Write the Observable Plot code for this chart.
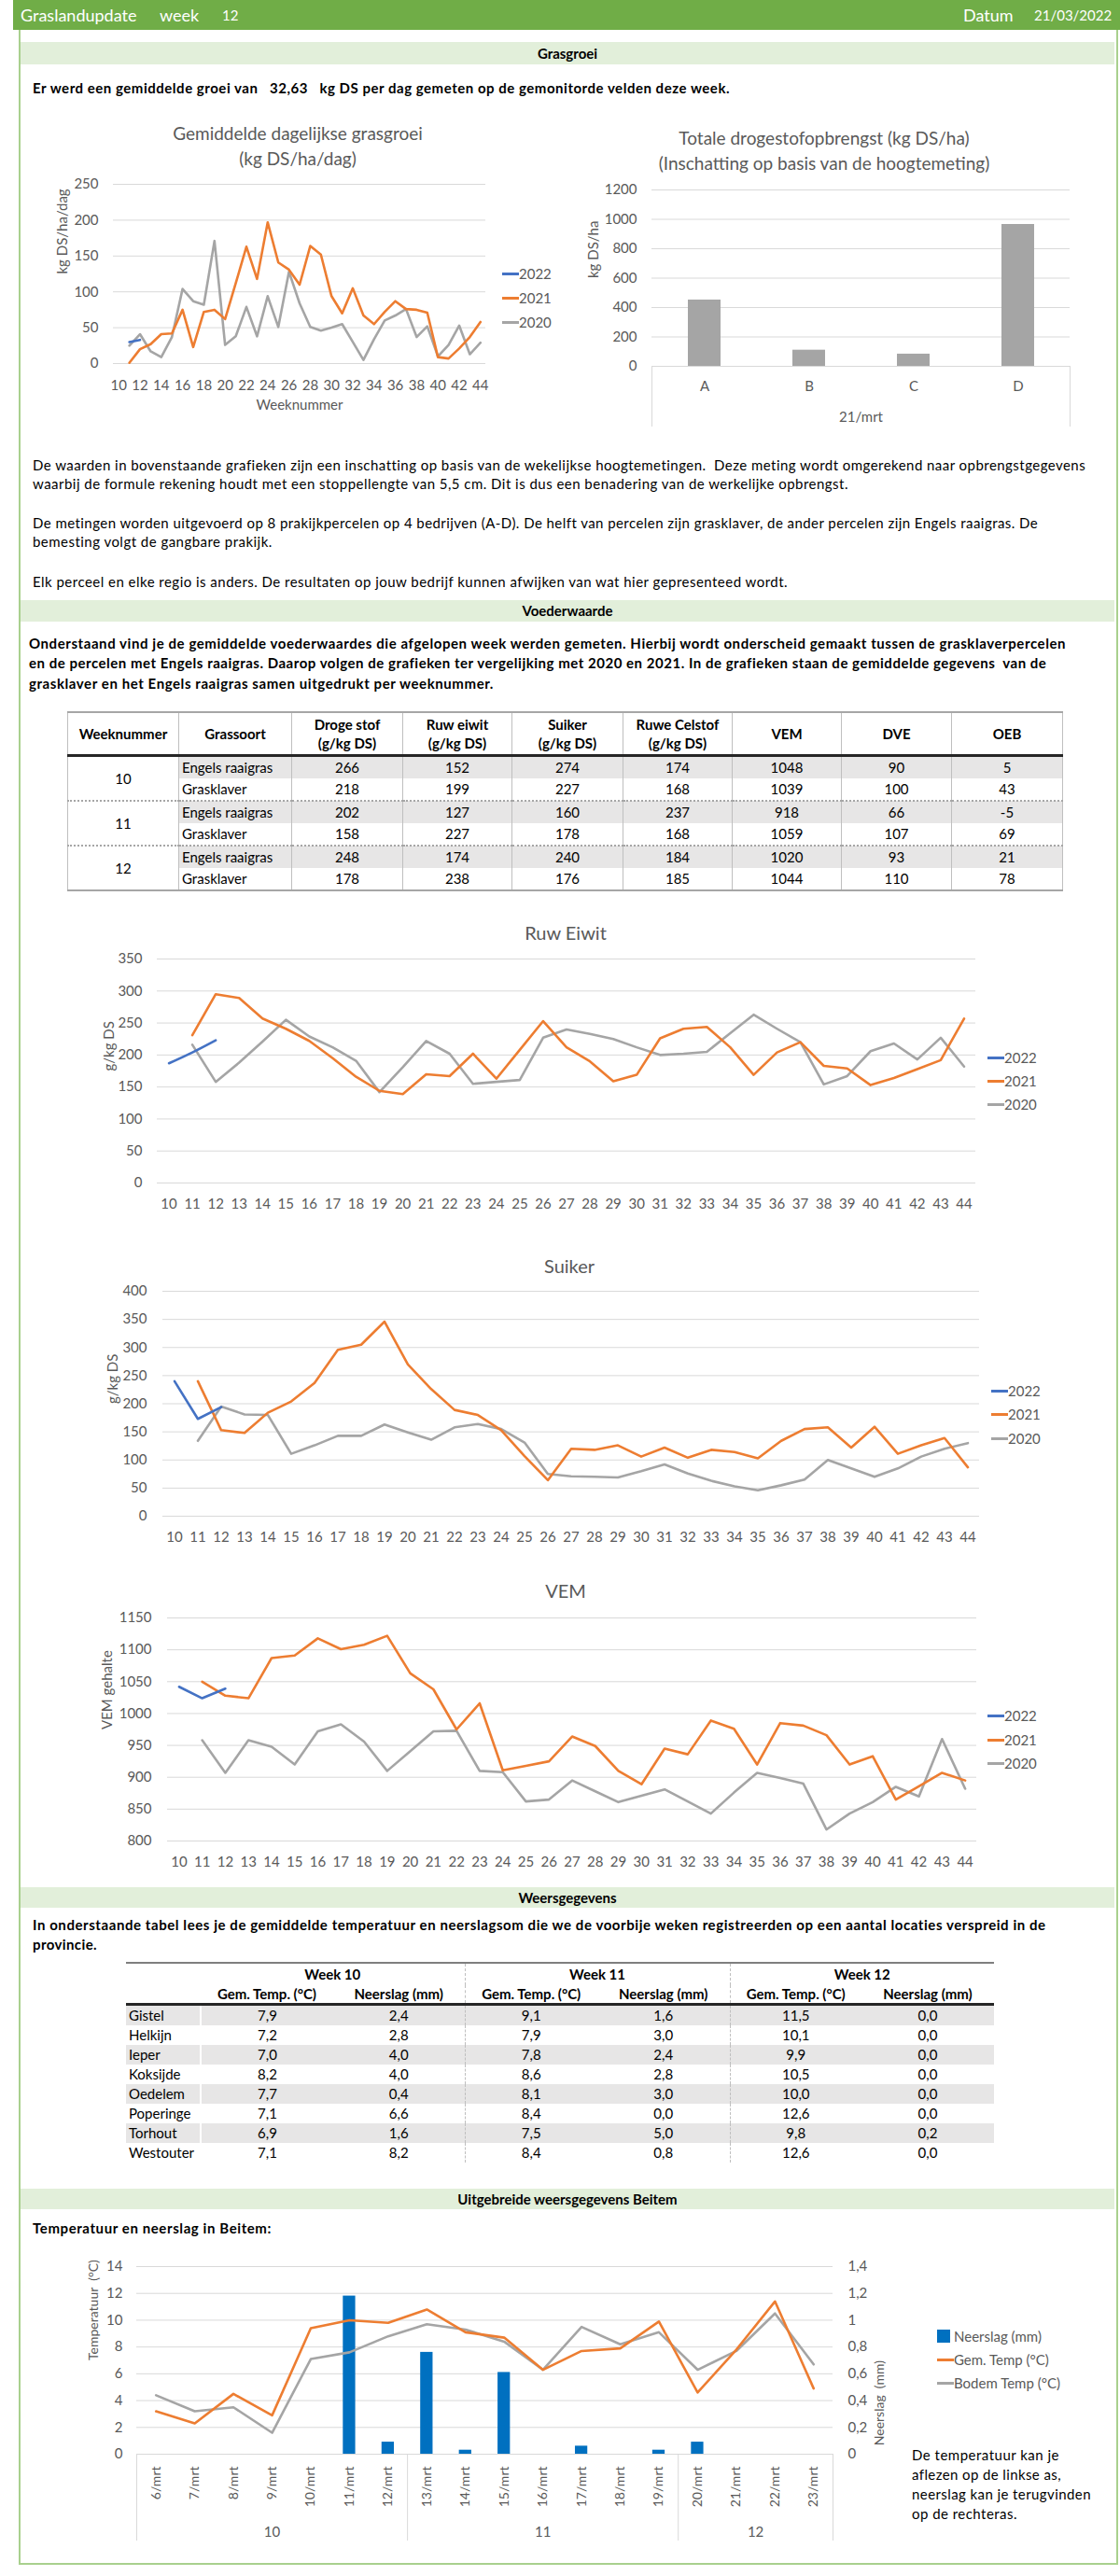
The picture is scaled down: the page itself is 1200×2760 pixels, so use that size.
<!DOCTYPE html>
<html><head><meta charset="utf-8">
<script src="https://cdn.jsdelivr.net/npm/d3@7"></script>
<script src="https://cdn.jsdelivr.net/npm/@observablehq/plot@0.6"></script>
<style>
html,body{margin:0;padding:0;background:#fff;}
#page{position:relative;width:1200px;height:2760px;overflow:hidden;font-family:Lato,"Open Sans",sans-serif;color:#000;}
#page div{position:absolute;}
table{border-collapse:collapse;table-layout:fixed;font-family:Lato,sans-serif;font-size:15px;color:#000;}
#vw{position:absolute;left:72px;top:762px;width:1066px;}
#vw th,#vw td{border-left:1px solid #bfbfbf;border-right:1px solid #bfbfbf;padding:0;text-align:center;}
#vw th{font-weight:700;height:44px;line-height:20px;border-top:2px solid #a6a6a6;border-bottom:3px solid #262626;}
#vw td{height:23px;line-height:23px;}
#vw tr.er td{background:#e7e6e6;}
#vw td.wk{background:#fff !important;}
#vw tr.grp td{border-top:2px dotted #a6a6a6;}
#vw tr.last td, #vw td.wk.lastwk{border-bottom:2px solid #a6a6a6;}
#vw td.gs{text-align:left;padding-left:3px;}
#wt{position:absolute;left:135px;top:2102px;width:930px;}
#wt th{font-weight:700;padding:0;text-align:center;}
#wt tr.h1 th{height:23px;border-top:2px solid #7f7f7f;line-height:23px;}
#wt tr.h2 th{height:19px;border-bottom:3px solid #262626;line-height:19px;}
#wt td{height:21px;padding:0;text-align:center;line-height:21px;}
#wt tr.sh td{background:#e7e6e6;}
#wt td.loc{text-align:left;padding-left:3px;border-right:2px solid #fff;}
#wt .dv{border-left:1px dashed #bfbfbf;}
</style></head>
<body><div id="page"></div>
<script>
// ---------------- DATA ----------------
const weeks = [10,11,12,13,14,15,16,17,18,19,20,21,22,23,24,25,26,27,28,29,30,31,32,33,34,35,36,37,38,39,40,41,42,43,44];
const weeksTo44 = [11,12,13,14,15,16,17,18,19,20,21,22,23,24,25,26,27,28,29,30,31,32,33,34,35,36,37,38,39,40,41,42,43,44];
const weekTicks2 = [10,12,14,16,18,20,22,24,26,28,30,32,34,36,38,40,42,44];

// Grasgroei (kg DS/ha/dag)
const groeiWeeks2022 = [11,12];
const groei2022 = [30,33];
const groei2021 = [1,20,27,41,42,75,23,72,75,62,112,163,118,197,141,131,110,164,152,94,70,105,67,55,72,87,76,75,71,9,7,21,37,58];
const groei2020 = [25,41,17,9,37,104,87,82,171,26,38,79,38,94,51,128,84,51,46,50,55,30,5,34,60,67,76,37,52,10,26,53,13,29];
const groeiTicks = [0,50,100,150,200,250];

// Totale drogestofopbrengst
const bedrijven = ["A","B","C","D"];
const opbrengst = [451,110,83,965];
const opbrengstTicks = [0,200,400,600,800,1000,1200];

// Voederwaarde table
const vwWeeks = [10,11,12];
const vwSoorten = ["Engels raaigras","Grasklaver"];
const vwHeaders = ["Weeknummer","Grassoort","Droge stof<br>(g/kg DS)","Ruw eiwit<br>(g/kg DS)","Suiker<br>(g/kg DS)","Ruwe Celstof<br>(g/kg DS)","VEM","DVE","OEB"];
const drogeStof = [266,218,202,158,248,178];
const ruwEiwitT = [152,199,127,227,174,238];
const suikerT = [274,227,160,178,240,176];
const celstofT = [174,168,237,168,184,185];
const vemT = [1048,1039,918,1059,1020,1044];
const dveT = [90,100,66,107,93,110];
const oebT = [5,43,-5,69,21,78];

// Ruw eiwit
const eiwitWeeks2022 = [10,11,12];
const eiwit2022 = [187,204,223];
const eiwit2021 = [231,295,289,257,241,222,195,166,144,139,170,167,202,163,208,253,212,190,159,169,226,241,244,212,169,204,220,183,179,153,164,178,192,257];
const eiwit2020 = [216,158,188,221,255,229,212,191,142,181,222,202,155,158,161,227,240,233,225,212,200,202,205,234,263,241,220,154,167,206,218,193,227,182];
const eiwitTicks = [0,50,100,150,200,250,300,350];

// Suiker
const suikerWeeks2022 = [10,11,12];
const suiker2022 = [240,173,194];
const suiker2021 = [240,153,148,184,204,237,296,305,346,270,226,189,180,153,107,64,120,118,126,106,122,104,118,114,103,134,155,158,122,159,111,126,139,87];
const suiker2020 = [134,195,181,180,111,126,143,143,163,149,136,158,164,155,131,75,71,70,69,80,92,76,63,53,46,55,65,100,85,70,85,106,120,130];
const suikerTicks = [0,50,100,150,200,250,300,350,400];

// VEM
const vemWeeks2022 = [10,11,12];
const vem2022 = [1042,1024,1039];
const vem2021 = [1050,1028,1024,1087,1091,1118,1101,1108,1122,1063,1038,975,1016,911,918,925,964,949,910,889,945,936,989,976,920,985,981,966,920,933,865,886,907,895];
const vem2020 = [958,907,958,948,920,972,983,956,910,941,972,973,910,908,862,865,895,878,861,871,881,862,843,876,907,899,890,818,843,861,885,870,960,882];
const vemTicks = [800,850,900,950,1000,1050,1100,1150];

// Weersgegevens
const locaties = ["Gistel","Helkijn","Ieper","Koksijde","Oedelem","Poperinge","Torhout","Westouter"];
const wkLabels = ["Week 10","Week 11","Week 12"];
const temp10 = [7.9,7.2,7.0,8.2,7.7,7.1,6.9,7.1];
const neer10 = [2.4,2.8,4.0,4.0,0.4,6.6,1.6,8.2];
const temp11 = [9.1,7.9,7.8,8.6,8.1,8.4,7.5,8.4];
const neer11 = [1.6,3.0,2.4,2.8,3.0,0.0,5.0,0.8];
const temp12 = [11.5,10.1,9.9,10.5,10.0,12.6,9.8,12.6];
const neer12 = [0.0,0.0,0.0,0.0,0.0,0.0,0.2,0.0];

// Beitem
const dagen = ["6/mrt","7/mrt","8/mrt","9/mrt","10/mrt","11/mrt","12/mrt","13/mrt","14/mrt","15/mrt","16/mrt","17/mrt","18/mrt","19/mrt","20/mrt","21/mrt","22/mrt","23/mrt"];
const dagWeek = ["10","10","10","10","10","10","10","11","11","11","11","11","11","11","12","12","12","12"];
const neerslag = [0,0,0,0,0,1.18,0.09,0.76,0.03,0.61,0,0.06,0,0.03,0.09,0,0,0];
const gemTemp = [3.2,2.3,4.5,2.9,9.4,10.0,9.8,10.8,9.1,8.7,6.3,7.7,7.9,9.9,4.6,7.8,11.4,4.9];
const bodemTemp = [4.4,3.2,3.5,1.6,7.1,7.6,8.8,9.7,9.3,8.4,6.3,9.5,8.2,9.1,6.3,7.7,10.5,6.7];
const tempTicks = [0,2,4,6,8,10,12,14];

// ---------------- HELPERS ----------------
const ORANGE = "#ed7d31", GRAY = "#a5a5a5", BLUE = "#4472c4", GRID = "#d9d9d9", TXT = "#595959";
const page = document.getElementById("page");
function box(css, html = "") {
  const d = document.createElement("div");
  d.style.cssText = "position:absolute;" + css;
  d.innerHTML = html;
  page.appendChild(d);
  return d;
}
function fit(d, w) {
  const n = d.textContent.length;
  const cur = d.getBoundingClientRect().width;
  if (n > 1) d.style.letterSpacing = ((w - cur) / n).toFixed(3) + "px";
}
function txt(x, yc, text, o = {}) {
  const fs = o.size || 15;
  const d = box(`left:${x}px;top:${yc - 12}px;line-height:24px;font-size:${fs}px;white-space:pre;font-weight:${o.bold ? 700 : 400};color:${o.color || "#000"}`, text);
  if (o.w) fit(d, o.w);
  return d;
}
function ctxt(xc, yc, text, o = {}) {
  const fs = o.size || 15;
  return box(`left:${xc - 400}px;width:800px;text-align:center;top:${yc - 14}px;line-height:28px;font-size:${fs}px;white-space:pre;font-weight:${o.bold ? 700 : 400};color:${o.color || "#000"}`, text);
}
function place(node, left, top) {
  node.style.position = "absolute";
  node.style.left = left + "px";
  node.style.top = top + "px";
  page.appendChild(node);
}
function legendLine(x, y, color, label, len = 18) {
  box(`left:${x}px;top:${y - 1.5}px;width:${len}px;height:3px;background:${color}`);
  txt(x + len, y, label, {color: TXT});
}
function section(top, h, label) {
  box(`left:22px;top:${top}px;width:1172px;height:${h}px;background:#e2efda;line-height:${h}px;text-align:center;font-weight:700;font-size:15px`, label);
}
const pts = (ws, vs) => ws.map((w, i) => ({w, v: vs[i]}));

function lineChart(c) {
  const width = c.x1 - c.left + 20, height = c.yBottom - c.top + 60;
  const marks = [
    Plot.ruleY(c.ticks, {stroke: GRID, strokeWidth: 1}),
    Plot.axisY({ticks: c.ticks, tickSize: 0, tickPadding: c.yPad, tickFormat: d => String(d), label: null}),
    Plot.axisX({ticks: c.xTicks, tickSize: 0, tickPadding: c.xPad, tickFormat: d => String(d), label: null}),
    Plot.text([c.yLabel], {frameAnchor: "left", rotate: -90, dx: c.labelX - c.x0, fontSize: 15})
  ];
  if (c.xLabel) marks.push(Plot.text([c.xLabel], {frameAnchor: "bottom", lineAnchor: "middle", dy: c.xLabelDy, fontSize: 15}));
  for (const s of c.series) {
    marks.push(Plot.line(pts(s.weeks, s.values), {x: "w", y: "v", stroke: s.color, strokeWidth: 2.6, curve: s.curve || "linear"}));
  }
  const p = Plot.plot({
    width, height,
    marginLeft: c.x0 - c.left, marginRight: 20, marginTop: c.yTop - c.top, marginBottom: 60,
    style: {fontFamily: "Lato, sans-serif", fontSize: (c.fontSize || 15) + "px", color: TXT, background: "none", overflow: "visible"},
    x: {domain: [9.5, 44.5]},
    y: {domain: c.domain},
    marks
  });
  place(p, c.left, c.top);
}

// ---------------- FRAME & HEADER ----------------
box("left:20px;top:32px;width:1174px;height:2714px;border:2px solid #a9d08e;border-top:none");
box("left:14px;top:0;width:1186px;height:32px;background:#70ad47");
txt(22, 16, "Graslandupdate", {color: "#fff", size: 18});
txt(171, 16, "week", {color: "#fff", size: 18});
txt(238, 16, "12", {color: "#fff", size: 15});
txt(1032, 16, "Datum", {color: "#fff", size: 18});
txt(1108, 16, "21/03/2022", {color: "#fff", size: 15});

// ---------------- GRASGROEI ----------------
section(45, 24, "Grasgroei");
txt(35, 94, "Er werd een gemiddelde groei van   32,63   kg DS per dag gemeten op de gemonitorde velden deze week.", {bold: true, w: 747});

ctxt(319, 143, "Gemiddelde dagelijkse grasgroei", {size: 19, color: TXT});
ctxt(319, 170, "(kg DS/ha/dag)", {size: 19, color: TXT});
lineChart({left: 20, top: 180, x0: 121, x1: 520, yTop: 197, yBottom: 389, domain: [0, 250], ticks: groeiTicks,
  xTicks: weekTicks2, yLabel: "kg DS/ha/dag", labelX: 67, xPad: 18, yPad: 16, xLabel: "Weeknummer", xLabelDy: 45,
  series: [
    {weeks: weeksTo44, values: groei2020, color: GRAY},
    {weeks: weeksTo44, values: groei2021, color: ORANGE},
    {weeks: groeiWeeks2022, values: groei2022, color: BLUE}
  ]});
legendLine(538, 293, BLUE, "2022");
legendLine(538, 319, ORANGE, "2021");
legendLine(538, 345, GRAY, "2020");

// bar chart
ctxt(883, 148, "Totale drogestofopbrengst (kg DS/ha)", {size: 19, color: TXT});
ctxt(883, 175, "(Inschatting op basis van de hoogtemeting)", {size: 19, color: TXT});
{
  const data = bedrijven.map((b, i) => ({b, v: opbrengst[i]}));
  const p = Plot.plot({
    width: 560, height: 285, marginLeft: 98, marginRight: 14, marginTop: 18, marginBottom: 78,
    style: {fontFamily: "Lato, sans-serif", fontSize: "15px", color: TXT, background: "none", overflow: "visible"},
    x: {type: "band", domain: bedrijven, paddingInner: 0.69, paddingOuter: 0.345},
    y: {domain: [0, 1200]},
    marks: [
      Plot.ruleY(opbrengstTicks.filter(d => d > 0), {stroke: GRID}),
      Plot.barY(data, {x: "b", y: "v", fill: GRAY}),
      Plot.ruleY([0], {stroke: GRID}),
      Plot.axisY({ticks: opbrengstTicks, tickSize: 0, tickPadding: 16, tickFormat: d => String(d), label: null}),
      Plot.axisX({tickSize: 0, tickPadding: 16, label: null}),
      Plot.text(["kg DS/ha"], {frameAnchor: "left", rotate: -90, dx: -62, fontSize: 15}),
      Plot.text(["21/mrt"], {frameAnchor: "bottom", lineAnchor: "middle", dy: 55, fontSize: 15})
    ]
  });
  place(p, 600, 185);
  box("left:698px;top:392px;width:447px;height:65px;border-left:1px solid #d9d9d9;border-right:1px solid #d9d9d9");
}

// paragraphs
txt(35, 498, "De waarden in bovenstaande grafieken zijn een inschatting op basis van de wekelijkse hoogtemetingen.  Deze meting wordt omgerekend naar opbrengstgegevens", {w: 1128});
txt(35, 518, "waarbij de formule rekening houdt met een stoppellengte van 5,5 cm. Dit is dus een benadering van de werkelijke opbrengst.", {w: 874});
txt(35, 560, "De metingen worden uitgevoerd op 8 prakijkpercelen op 4 bedrijven (A-D). De helft van percelen zijn grasklaver, de ander percelen zijn Engels raaigras. De", {w: 1077});
txt(35, 580, "bemesting volgt de gangbare prakijk.", {w: 257});
txt(35, 623, "Elk perceel en elke regio is anders. De resultaten op jouw bedrijf kunnen afwijken van wat hier gepresenteed wordt.", {w: 809});

// ---------------- VOEDERWAARDE ----------------
section(643, 23, "Voederwaarde");
txt(31, 689, "Onderstaand vind je de gemiddelde voederwaardes die afgelopen week werden gemeten. Hierbij wordt onderscheid gemaakt tussen de grasklaverpercelen", {bold: true, w: 1111});
txt(31, 710, "en de percelen met Engels raaigras. Daarop volgen de grafieken ter vergelijking met 2020 en 2021. In de grafieken staan de gemiddelde gegevens  van de", {bold: true, w: 1090});
txt(31, 732, "grasklaver en het Engels raaigras samen uitgedrukt per weeknummer.", {bold: true, w: 498});

{
  const widths = [119,121,119,117,119,117,117,118,119];
  let h = "<colgroup>" + widths.map(w => `<col style="width:${w}px">`).join("") + "</colgroup>";
  h += "<thead><tr>" + vwHeaders.map(t => `<th>${t}</th>`).join("") + "</tr></thead><tbody>";
  vwWeeks.forEach((wk, gi) => {
    vwSoorten.forEach((s, si) => {
      const r = gi * 2 + si;
      const cls = [si === 0 ? "er" : "", (si === 0 && gi > 0) ? "grp" : "", (gi === vwWeeks.length - 1 && si === 1) ? "last" : ""].join(" ");
      h += `<tr class="${cls}">`;
      if (si === 0) h += `<td rowspan="2" class="wk${gi === vwWeeks.length - 1 ? " lastwk" : ""}">${wk}</td>`;
      h += `<td class="gs">${s}</td>` + [drogeStof, ruwEiwitT, suikerT, celstofT, vemT, dveT, oebT].map(a => `<td>${a[r]}</td>`).join("") + "</tr>";
    });
  });
  h += "</tbody>";
  const t = document.createElement("table");
  t.id = "vw";
  t.innerHTML = h;
  page.appendChild(t);
}

// Ruw eiwit
ctxt(606, 999, "Ruw Eiwit", {size: 20, color: TXT});
lineChart({left: 20, top: 1010, x0: 168, x1: 1045, yTop: 1027, yBottom: 1267, domain: [0, 350], ticks: eiwitTicks,
  xTicks: weeks, yLabel: "g/kg DS", labelX: 117, xPad: 17, yPad: 16,
  series: [
    {weeks: weeksTo44, values: eiwit2020, color: GRAY},
    {weeks: weeksTo44, values: eiwit2021, color: ORANGE},
    {weeks: eiwitWeeks2022, values: eiwit2022, color: BLUE, curve: "monotone-x"}
  ]});
legendLine(1058, 1133, BLUE, "2022");
legendLine(1058, 1158, ORANGE, "2021");
legendLine(1058, 1183, GRAY, "2020");

// Suiker
ctxt(610, 1356, "Suiker", {size: 20, color: TXT});
lineChart({left: 20, top: 1365, x0: 174, x1: 1049, yTop: 1383, yBottom: 1624, domain: [0, 400], ticks: suikerTicks,
  xTicks: weeks, yLabel: "g/kg DS", labelX: 121, xPad: 17, yPad: 17,
  series: [
    {weeks: weeksTo44, values: suiker2020, color: GRAY},
    {weeks: weeksTo44, values: suiker2021, color: ORANGE},
    {weeks: suikerWeeks2022, values: suiker2022, color: BLUE}
  ]});
legendLine(1062, 1490, BLUE, "2022");
legendLine(1062, 1515, ORANGE, "2021");
legendLine(1062, 1541, GRAY, "2020");

// VEM
ctxt(606, 1704, "VEM", {size: 20, color: TXT});
lineChart({left: 20, top: 1715, x0: 179, x1: 1046, yTop: 1733, yBottom: 1972, domain: [800, 1150], ticks: vemTicks,
  xTicks: weeks, yLabel: "VEM gehalte", labelX: 115, xPad: 17, yPad: 17,
  series: [
    {weeks: weeksTo44, values: vem2020, color: GRAY},
    {weeks: weeksTo44, values: vem2021, color: ORANGE},
    {weeks: vemWeeks2022, values: vem2022, color: BLUE}
  ]});
legendLine(1058, 1838, BLUE, "2022");
legendLine(1058, 1864, ORANGE, "2021");
legendLine(1058, 1889, GRAY, "2020");

// ---------------- WEERSGEGEVENS ----------------
section(2022, 22, "Weersgegevens");
txt(35, 2062, "In onderstaande tabel lees je de gemiddelde temperatuur en neerslagsom die we de voorbije weken registreerden op een aantal locaties verspreid in de", {bold: true, w: 1086});
txt(35, 2083, "provincie.", {bold: true, w: 69});
{
  const f = v => v.toFixed(1).replace(".", ",");
  const widths = [80,142,141,142,142,141,142];
  let h = "<colgroup>" + widths.map(w => `<col style="width:${w}px">`).join("") + "</colgroup>";
  h += `<tr class="h1"><th></th>` + wkLabels.map((w, i) => `<th colspan="2" class="${i > 0 ? "dv" : ""}">${w}</th>`).join("") + "</tr>";
  h += `<tr class="h2"><th></th>` + wkLabels.map((w, i) => `<th class="${i > 0 ? "dv" : ""}">Gem. Temp. (°C)</th><th>Neerslag (mm)</th>`).join("") + "</tr>";
  locaties.forEach((loc, r) => {
    h += `<tr class="${r % 2 === 0 ? "sh" : ""}"><td class="loc">${loc}</td>` +
      [[temp10, neer10], [temp11, neer11], [temp12, neer12]].map(([t, n], i) => `<td class="${i > 0 ? "dv" : ""}">${f(t[r])}</td><td>${f(n[r])}</td>`).join("") + "</tr>";
  });
  const t = document.createElement("table");
  t.id = "wt";
  t.innerHTML = h;
  page.appendChild(t);
}

// ---------------- BEITEM ----------------
section(2345, 22, "Uitgebreide weersgegevens Beitem");
txt(35, 2387, "Temperatuur en neerslag in Beitem:", {bold: true, w: 256});
{
  const idx = dagen.map((d, i) => i);
  const bars = idx.filter(i => neerslag[i] > 0).map(i => ({i, mm: neerslag[i]}));
  const groups = Array.from(new Set(dagWeek)).map(w => {
    const f = dagWeek.indexOf(w), l = dagWeek.lastIndexOf(w);
    return {week: w, mid: (f + l) / 2, first: f, last: l};
  });
  const bounds = [groups[0].first - 0.5, ...groups.map(g => g.last + 0.5)];
  const neerFmt = d => String(d / 10).replace(".", ",");
  const p = Plot.plot({
    width: 940, height: 320, marginLeft: 126, marginRight: 68, marginTop: 18, marginBottom: 101,
    style: {fontFamily: "Lato, sans-serif", fontSize: "15px", color: TXT, background: "none", overflow: "visible"},
    x: {domain: [-0.5, dagen.length - 0.5], axis: null},
    y: {domain: [0, 14]},
    marks: [
      Plot.ruleY(tempTicks, {stroke: GRID}),
      Plot.rectY(bars, {x1: d => d.i - 0.16, x2: d => d.i + 0.16, y: d => d.mm * 10, fill: "#0070c0"}),
      Plot.line(idx, {x: i => i, y: i => bodemTemp[i], stroke: GRAY, strokeWidth: 2.6}),
      Plot.line(idx, {x: i => i, y: i => gemTemp[i], stroke: ORANGE, strokeWidth: 2.6}),
      Plot.axisY({anchor: "left", ticks: tempTicks, tickSize: 0, tickPadding: 15, tickFormat: d => String(d), label: null}),
      Plot.axisY({anchor: "right", ticks: tempTicks, tickSize: 0, tickPadding: 16, tickFormat: neerFmt, label: null}),
      Plot.text(dagen, {x: (d, i) => i, frameAnchor: "bottom", dy: 13, rotate: -90, textAnchor: "end", lineAnchor: "middle", fontSize: 14}),
      Plot.ruleX(bounds, {stroke: GRID, insetTop: 201, insetBottom: -93}),
      Plot.text(groups, {x: "mid", text: "week", frameAnchor: "bottom", lineAnchor: "middle", dy: 84, fontSize: 15}),
      Plot.text(["Temperatuur  (°C)"], {frameAnchor: "left", rotate: -90, dx: -46, fontSize: 14}),
      Plot.text(["Neerslag  (mm)"], {frameAnchor: "right", rotate: -90, dx: 50, fontSize: 14})
    ]
  });
  place(p, 20, 2410);
}
box("left:1004px;top:2496px;width:14px;height:14px;background:#0070c0");
txt(1022, 2503, "Neerslag (mm)", {color: TXT});
legendLine(1004, 2528, ORANGE, "Gem. Temp (°C)");
legendLine(1004, 2553, GRAY, "Bodem Temp (°C)");
txt(977, 2630, "De temperatuur kan je", {w: 158});
txt(977, 2651, "aflezen op de linkse as,", {w: 160});
txt(977, 2672, "neerslag kan je terugvinden", {w: 192});
txt(977, 2693, "op de rechteras.", {w: 113});
</script></body></html>
